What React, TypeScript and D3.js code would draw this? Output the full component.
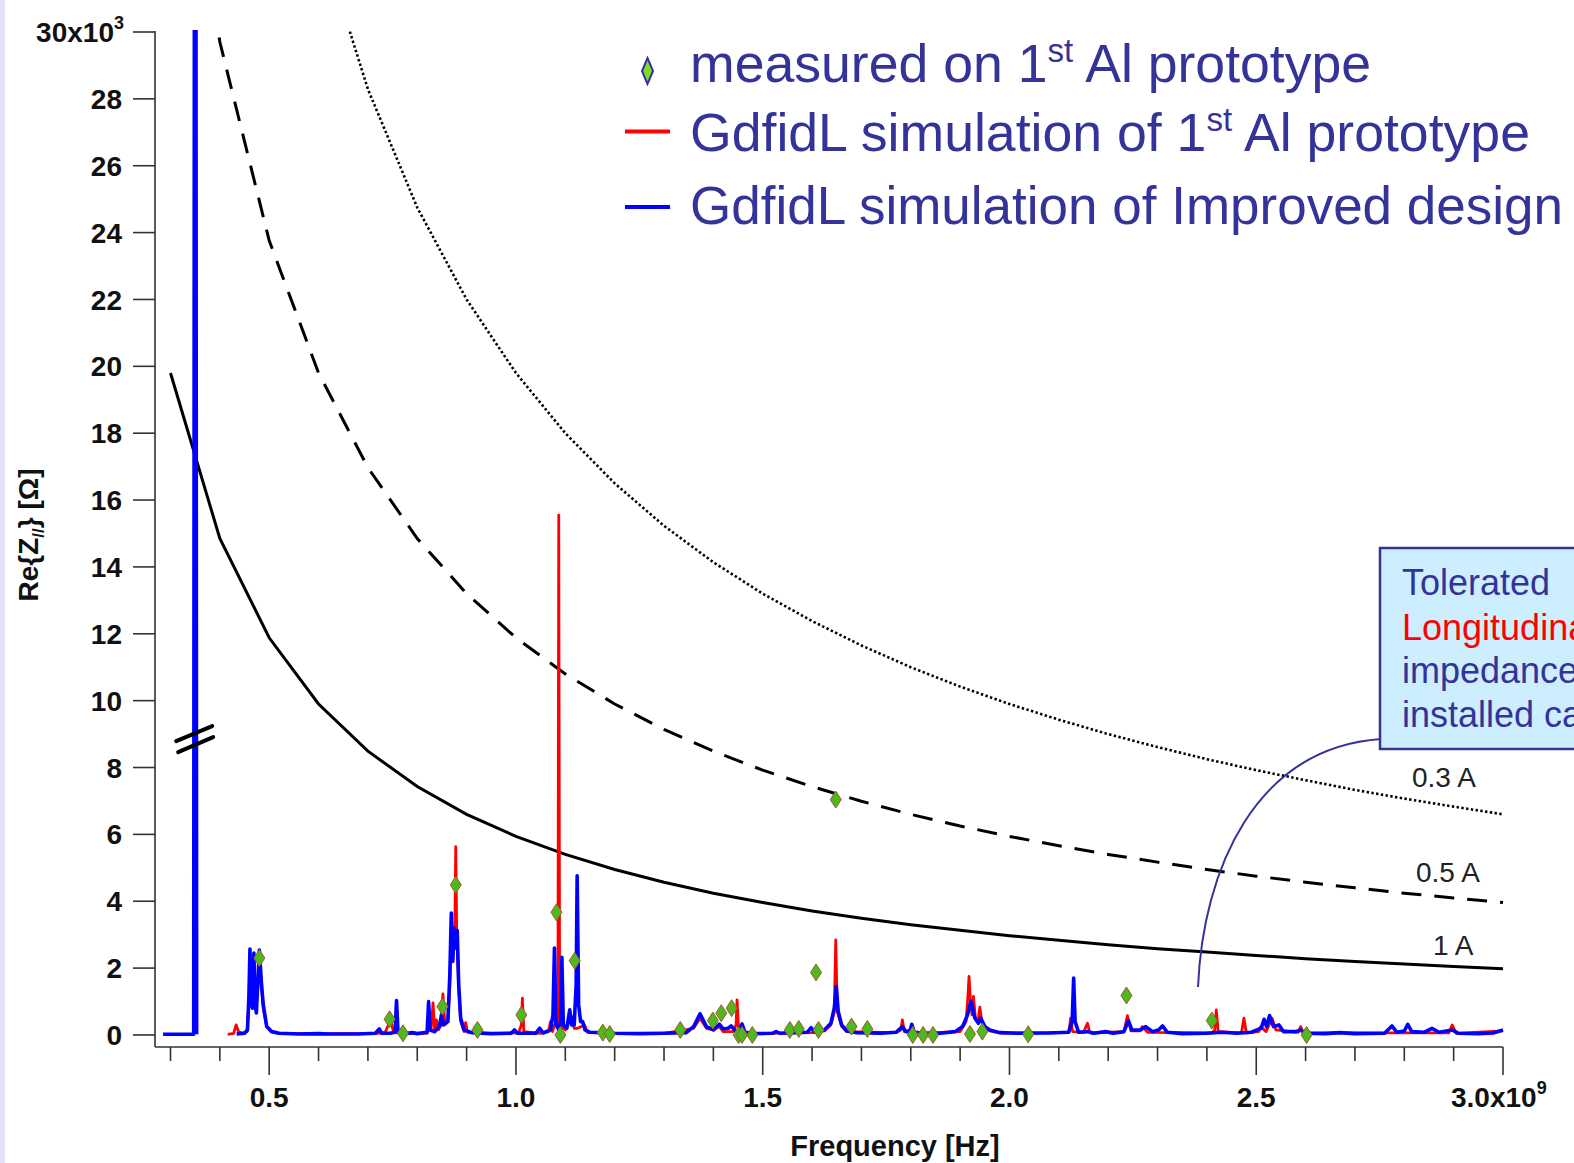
import React from "react";
import * as d3 from "d3";

// frequency grid of the tolerated-impedance curves [GHz]
const LIMIT_FREQ = [
  0.3, 0.4, 0.5, 0.6, 0.7, 0.8, 0.9, 1.0, 1.1, 1.2, 1.3, 1.4, 1.5, 1.6,
  1.7, 1.8, 1.9, 2.0, 2.1, 2.2, 2.3, 2.4, 2.5, 2.6, 2.7, 2.8, 2.9, 3.0,
];
// Re{Z} limits [kOhm]
const LIMIT_1A = [
  19.8, 14.85, 11.88, 9.9, 8.49, 7.43, 6.6, 5.94, 5.4, 4.95, 4.57, 4.24, 3.96,
  3.71, 3.49, 3.3, 3.13, 2.97, 2.83, 2.7, 2.58, 2.48, 2.38, 2.28, 2.2, 2.12,
  2.05, 1.98,
];
const LIMIT_05A = [
  39.6, 29.7, 23.76, 19.8, 16.97, 14.85, 13.2, 11.88, 10.8, 9.9, 9.14, 8.49,
  7.92, 7.43, 6.99, 6.6, 6.25, 5.94, 5.66, 5.4, 5.17, 4.95, 4.75, 4.57, 4.4,
  4.24, 4.1, 3.96,
];
const LIMIT_03A = [
  66, 49.5, 39.6, 33, 28.29, 24.75, 22, 19.8, 18, 16.5, 15.23, 14.14, 13.2,
  12.38, 11.65, 11, 10.42, 9.9, 9.43, 9, 8.61, 8.25, 7.92, 7.62, 7.33, 7.07,
  6.83, 6.6,
];

// GdfidL, improved design [GHz, kOhm]; null = gap
const SIM_IMPROVED: ([number, number] | null)[] = [
  [0.285, 0.02], [0.347, 0.02], [0.349, 45], [0.351, 45], [0.353, 0.02], null,
  [0.434, 0.03], [0.45, 0.05], [0.456, 0.15], [0.459, 1.2], [0.461, 2.57],
  [0.463, 1.0], [0.466, 0.8], [0.469, 2.45], [0.471, 1.0], [0.474, 0.66],
  [0.477, 1.6], [0.48, 2.54], [0.484, 1.6], [0.488, 0.9], [0.495, 0.25],
  [0.505, 0.1], [0.52, 0.05], [0.56, 0.03], [0.6, 0.04], [0.62, 0.03],
  [0.68, 0.03], [0.715, 0.05], [0.723, 0.18], [0.728, 0.05], [0.745, 0.05],
  [0.755, 0.08], [0.758, 1.03], [0.761, 0.08], [0.775, 0.04], [0.79, 0.07],
  [0.8, 0.04], [0.82, 0.08], [0.823, 1.0], [0.826, 0.15], [0.835, 0.1],
  [0.845, 0.25], [0.849, 0.6], [0.853, 0.3], [0.862, 0.4], [0.866, 1.8],
  [0.869, 3.65], [0.872, 2.2], [0.875, 3.2], [0.878, 2.6], [0.881, 3.12],
  [0.884, 1.5], [0.888, 0.5], [0.895, 0.15], [0.91, 0.07], [0.95, 0.04],
  [0.99, 0.05], [0.997, 0.15], [1.003, 0.05], [1.04, 0.05], [1.048, 0.2],
  [1.055, 0.06], [1.07, 0.15], [1.075, 0.6], [1.078, 2.6], [1.081, 0.3],
  [1.087, 0.15], [1.091, 0.5], [1.093, 2.32], [1.096, 0.3], [1.103, 0.2],
  [1.109, 0.75], [1.113, 0.3], [1.118, 0.3], [1.122, 1.5], [1.124, 4.76],
  [1.127, 0.9], [1.131, 0.4], [1.135, 0.4], [1.14, 0.15], [1.15, 0.08],
  [1.2, 0.05], [1.25, 0.04], [1.3, 0.05], [1.345, 0.07], [1.36, 0.25],
  [1.373, 0.63], [1.386, 0.25], [1.4, 0.15], [1.412, 0.32], [1.42, 0.18],
  [1.43, 0.2], [1.436, 0.27], [1.445, 0.12], [1.452, 0.15], [1.458, 0.33],
  [1.464, 0.08], [1.48, 0.04], [1.52, 0.05], [1.527, 0.1], [1.535, 0.05],
  [1.59, 0.08], [1.598, 0.22], [1.606, 0.08], [1.625, 0.15], [1.638, 0.35],
  [1.645, 0.8], [1.649, 1.45], [1.653, 0.7], [1.66, 0.3], [1.67, 0.12],
  [1.69, 0.07], [1.74, 0.05], [1.77, 0.08], [1.783, 0.25], [1.79, 0.1],
  [1.798, 0.1], [1.802, 0.32], [1.807, 0.08], [1.83, 0.05], [1.86, 0.05],
  [1.89, 0.1], [1.905, 0.25], [1.915, 0.6], [1.922, 1.0], [1.93, 0.5],
  [1.937, 0.35], [1.942, 0.5], [1.95, 0.25], [1.96, 0.15], [1.98, 0.07],
  [2.02, 0.05], [2.08, 0.06], [2.12, 0.08], [2.127, 0.4], [2.13, 1.7],
  [2.133, 0.4], [2.14, 0.08], [2.16, 0.1], [2.17, 0.05], [2.195, 0.1],
  [2.21, 0.05], [2.232, 0.1], [2.241, 0.43], [2.248, 0.15], [2.265, 0.15],
  [2.276, 0.25], [2.29, 0.1], [2.302, 0.15], [2.31, 0.27], [2.32, 0.08],
  [2.35, 0.04], [2.4, 0.05], [2.43, 0.08], [2.46, 0.05], [2.49, 0.08],
  [2.51, 0.2], [2.516, 0.47], [2.521, 0.25], [2.527, 0.58], [2.535, 0.25],
  [2.546, 0.3], [2.555, 0.1], [2.58, 0.1], [2.59, 0.15], [2.6, 0.05],
  [2.64, 0.04], [2.669, 0.07], [2.7, 0.04], [2.76, 0.05], [2.775, 0.27],
  [2.785, 0.08], [2.8, 0.12], [2.807, 0.32], [2.815, 0.1], [2.84, 0.08],
  [2.856, 0.2], [2.87, 0.08], [2.897, 0.15], [2.91, 0.05], [2.95, 0.04],
  [2.98, 0.06], [3.0, 0.15],
];

// GdfidL, 1st Al prototype [GHz, kOhm]
const SIM_PROTO: [number, number][] = [
  [0.416, 0.02], [0.428, 0.05], [0.433, 0.3], [0.438, 0.1], [0.445, 0.05],
  [0.455, 0.1], [0.459, 1.0], [0.461, 2.3], [0.464, 0.9], [0.469, 2.2],
  [0.473, 0.8], [0.477, 1.4], [0.48, 2.45], [0.484, 1.5], [0.488, 0.8],
  [0.495, 0.25], [0.505, 0.1], [0.52, 0.05], [0.6, 0.03], [0.72, 0.05],
  [0.735, 0.08], [0.746, 0.45], [0.752, 0.08], [0.77, 0.04], [0.82, 0.05],
  [0.825, 0.6], [0.828, 0.15], [0.832, 0.96], [0.835, 0.2], [0.839, 0.45],
  [0.843, 0.15], [0.848, 0.3], [0.852, 1.23], [0.856, 0.3], [0.862, 0.4],
  [0.866, 1.5], [0.869, 3.0], [0.873, 2.5], [0.876, 3.0], [0.878, 5.63],
  [0.88, 3.0], [0.884, 1.4], [0.888, 0.4], [0.895, 0.1], [0.898, 0.37],
  [0.902, 0.08], [0.95, 0.04], [1.005, 0.06], [1.011, 0.3], [1.013, 1.1],
  [1.016, 0.1], [1.05, 0.05], [1.066, 0.1], [1.07, 0.4], [1.074, 0.1],
  [1.078, 0.3], [1.085, 0.3], [1.0867, 15.55], [1.0885, 0.3], [1.1, 0.15],
  [1.114, 0.55], [1.118, 0.2], [1.125, 0.2], [1.139, 0.3], [1.145, 0.08],
  [1.2, 0.05], [1.3, 0.05], [1.36, 0.2], [1.373, 0.5], [1.386, 0.2],
  [1.4, 0.15], [1.412, 0.25], [1.42, 0.1], [1.44, 0.1], [1.446, 0.3],
  [1.448, 1.05], [1.451, 0.2], [1.46, 0.1], [1.48, 0.04], [1.6, 0.07],
  [1.625, 0.12], [1.638, 0.3], [1.645, 0.7], [1.648, 2.84], [1.651, 0.7],
  [1.66, 0.25], [1.67, 0.1], [1.77, 0.07], [1.78, 0.15], [1.783, 0.45],
  [1.787, 0.1], [1.8, 0.15], [1.81, 0.05], [1.9, 0.1], [1.912, 0.4],
  [1.916, 1.2], [1.918, 1.75], [1.921, 1.0], [1.924, 0.6], [1.927, 1.15],
  [1.931, 0.5], [1.936, 0.4], [1.94, 0.83], [1.944, 0.4], [1.95, 0.2],
  [1.96, 0.12], [1.98, 0.06], [2.12, 0.08], [2.124, 0.5], [2.128, 0.1],
  [2.15, 0.08], [2.158, 0.35], [2.163, 0.06], [2.232, 0.1], [2.239, 0.58],
  [2.246, 0.12], [2.265, 0.12], [2.269, 0.25], [2.28, 0.08], [2.41, 0.06],
  [2.416, 0.15], [2.419, 0.75], [2.423, 0.1], [2.47, 0.06], [2.475, 0.5],
  [2.48, 0.06], [2.505, 0.1], [2.509, 0.25], [2.52, 0.1], [2.532, 0.5],
  [2.54, 0.15], [2.585, 0.08], [2.59, 0.25], [2.595, 0.06], [2.89, 0.06],
  [2.897, 0.3], [2.905, 0.05], [3.0, 0.12],
];

// measured on 1st Al prototype [GHz, kOhm]
const MEASURED: [number, number][] = [
  [0.48, 2.3], [0.744, 0.47], [0.771, 0.05], [0.851, 0.85], [0.878, 4.49],
  [0.922, 0.15], [1.011, 0.6], [1.082, 3.67], [1.09, 0.0], [1.119, 2.22],
  [1.176, 0.07], [1.19, 0.03], [1.333, 0.15], [1.399, 0.43], [1.416, 0.65],
  [1.437, 0.8], [1.451, 0.0], [1.458, 0.0], [1.479, 0.0], [1.555, 0.15],
  [1.573, 0.18], [1.608, 1.87], [1.613, 0.15], [1.648, 7.04], [1.68, 0.25],
  [1.712, 0.18], [1.804, 0.0], [1.825, 0.0], [1.845, 0.0], [1.92, 0.03],
  [1.945, 0.1], [2.038, 0.02], [2.237, 1.18], [2.41, 0.43], [2.602, 0.0],
];

const Y_TICKS = d3.range(0, 30, 2);
const X_MAJOR = [0.5, 1.0, 1.5, 2.0, 2.5];
const X_MINOR = d3.range(3, 31).map((d) => d / 10);

const W = 1574;
const H = 1163;
const FONT = "'Liberation Sans', Arial, Helvetica, sans-serif";
const LEGEND_BLUE = "#333399";

export default function App() {
  const x = d3.scaleLinear().domain([0.2686, 3.0]).range([155, 1503]);
  const y = d3.scaleLinear().domain([-0.36, 30]).range([1047, 32]);

  const limitLine = d3
    .line<number>()
    .x((d, i) => x(LIMIT_FREQ[i]))
    .y((d) => y(d));

  const specLine = d3
    .line<[number, number] | null>()
    .defined((d) => d !== null)
    .x((d) => x(d![0]))
    .y((d) => y(d![1]));

  const diamond = "M0,-8.5L5.5,0L0,8.5L-5.5,0Z";
  const bx = x(0.35);
  const by = y(8.85);

  return (
    <div>
      <style>{"body{margin:0}"}</style>
      <svg width={W} height={H} style={{ display: "block", fontFamily: FONT }}>
        <rect x={0} y={0} width={W} height={H} fill="#ffffff" />
        <rect x={0} y={0} width={5} height={H} fill="#e6e0f8" />
        <defs>
          <clipPath id="plot">
            <rect x={155} y={30} width={1350} height={1017} />
          </clipPath>
        </defs>

        {/* tolerated impedance curves */}
        <g clipPath="url(#plot)" fill="none" stroke="#000">
          <path d={limitLine(LIMIT_03A)!} strokeWidth={2.6} strokeDasharray="2.4 2.4" />
          <path d={limitLine(LIMIT_05A)!} strokeWidth={3} strokeDasharray="20 13" />
          <path d={limitLine(LIMIT_1A)!} strokeWidth={3} />
        </g>

        {/* spectra */}
        <g clipPath="url(#plot)" fill="none" strokeLinejoin="round">
          <path d={specLine(SIM_PROTO)!} stroke="#ff0000" strokeWidth={2.8} />
          <path d={specLine(SIM_IMPROVED)!} stroke="#0000ff" strokeWidth={3.6} />
        </g>

        {/* axis break on the 0.35 GHz resonance */}
        <g stroke="#000" strokeWidth={4} strokeLinecap="round">
          <line x1={bx - 19} y1={by + 2} x2={bx + 17} y2={by - 13} />
          <line x1={bx - 17} y1={by + 13} x2={bx + 18} y2={by - 2} />
        </g>

        {/* measured points */}
        {MEASURED.map(([f, z], i) => (
          <path
            key={i}
            d={diamond}
            transform={`translate(${x(f)},${y(z)})`}
            fill="#4db81f"
            stroke="#a05a28"
            strokeWidth={1}
          />
        ))}

        {/* y axis */}
        <g stroke="#333" strokeWidth={1.6}>
          <line x1={155} y1={31} x2={155} y2={1047} />
          {[...Y_TICKS, 30].map((t) => (
            <line key={t} x1={133} y1={y(t)} x2={155} y2={y(t)} />
          ))}
        </g>
        <g fontSize={28} fontWeight="bold" fill="#111" textAnchor="end">
          {Y_TICKS.map((t) => (
            <text key={t} x={122} y={y(t)} dy="0.36em">
              {t}
            </text>
          ))}
          <text x={124} y={y(30)} dy="0.36em">
            30x10
            <tspan fontSize={18} dy={-13}>3</tspan>
          </text>
        </g>
        <text
          transform="translate(38,535) rotate(-90)"
          textAnchor="middle"
          fontSize={28}
          fontWeight="bold"
          fill="#111"
        >
          Re{"{"}Z<tspan fontSize={17} dy={6}>//</tspan>
          <tspan dy={-6}>{"}"} [Ω]</tspan>
        </text>

        {/* x axis */}
        <g stroke="#333" strokeWidth={1.6}>
          <line x1={155} y1={1047} x2={1503} y2={1047} />
          {X_MINOR.map((t) => (
            <line
              key={t}
              x1={x(t)}
              y1={1047}
              x2={x(t)}
              y2={t * 10 % 5 === 0 ? 1075 : 1061}
            />
          ))}
        </g>
        <g fontSize={28} fontWeight="bold" fill="#111" textAnchor="middle">
          {X_MAJOR.map((t) => (
            <text key={t} x={x(t)} y={1107}>
              {t.toFixed(1)}
            </text>
          ))}
          <text x={1451} y={1107} textAnchor="start">
            3.0x10
            <tspan fontSize={18} dy={-13}>9</tspan>
          </text>
        </g>
        <text x={895} y={1156} textAnchor="middle" fontSize={29} fontWeight="bold" fill="#111">
          Frequency [Hz]
        </text>

        {/* curve labels */}
        <g fontSize={28} fill="#222">
          <text x={1412} y={787}>0.3 A</text>
          <text x={1416} y={882}>0.5 A</text>
          <text x={1433} y={955}>1 A</text>
        </g>

        {/* legend */}
        <g fill={LEGEND_BLUE}>
          <path
            d="M0,-13L5.5,0L0,13L-5.5,0Z"
            transform="translate(647.5,71)"
            fill="#7fdc2a"
            stroke={LEGEND_BLUE}
            strokeWidth={2}
          />
          <text x={690} y={82} fontSize={53.6}>
            measured on 1<tspan fontSize={33} dy={-20}>st</tspan>
            <tspan dy={20}> Al prototype</tspan>
          </text>
          <line x1={625} y1={131.5} x2={670} y2={131.5} stroke="#ff0000" strokeWidth={4} />
          <text x={690} y={150.5} fontSize={53.6}>
            GdfidL simulation of 1<tspan fontSize={33} dy={-20}>st</tspan>
            <tspan dy={20}> Al prototype</tspan>
          </text>
          <line x1={625} y1={207} x2={670} y2={207} stroke="#0000ff" strokeWidth={4} />
          <text x={690} y={224} fontSize={53}>GdfidL simulation of Improved design</text>
        </g>

        {/* annotation */}
        <path
          d="M1198,987 C1203,870 1255,748 1381,739"
          fill="none"
          stroke={LEGEND_BLUE}
          strokeWidth={2}
        />
        <rect x={1380} y={548} width={260} height={201} fill="#cceeff" stroke={LEGEND_BLUE} strokeWidth={2.5} />
        <g fontSize={36} fill={LEGEND_BLUE}>
          <text x={1402} y={595}>Tolerated</text>
          <text x={1402} y={640} fill="#ff0000">Longitudinal</text>
          <text x={1402} y={683}>impedance for</text>
          <text x={1402} y={727}>installed cavities</text>
        </g>
      </svg>
    </div>
  );
}
